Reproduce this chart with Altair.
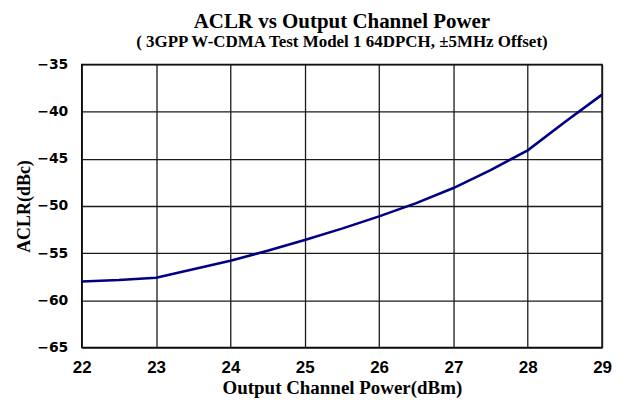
import altair as alt
import pandas as pd

power_dbm = [22, 22.5, 23, 23.5, 24, 24.5, 25, 25.5, 26, 26.5, 27, 27.5, 28, 28.5, 29]
aclr_dbc = [-58.0, -57.85, -57.6, -56.7, -55.8, -54.75, -53.6, -52.4, -51.1, -49.7, -48.1, -46.2, -44.1, -41.1, -38.2]

x_ticks = [22, 23, 24, 25, 26, 27, 28, 29]
y_ticks = [-65, -60, -55, -50, -45, -40, -35]

df = pd.DataFrame({"power": power_dbm, "aclr": aclr_dbc})

chart = (
    alt.Chart(df)
    .mark_line(color="#000085", strokeWidth=2.6)
    .encode(
        x=alt.X(
            "power:Q",
            scale=alt.Scale(domain=[22, 29], nice=False, zero=False),
            axis=alt.Axis(
                values=x_ticks,
                title="Output Channel Power(dBm)",
                format="d",
                labelFont="Liberation Sans",
                labelFontSize=17,
                labelFlush=False,
                labelPadding=12,
                titleFontSize=19,
                titlePadding=3,
            ),
        ),
        y=alt.Y(
            "aclr:Q",
            scale=alt.Scale(domain=[-65, -35], nice=False, zero=False),
            axis=alt.Axis(
                values=y_ticks,
                title="ACLR(dBc)",
                format="d",
                labelFont="DejaVu Sans",
                labelFontSize=14,
                labelPadding=14,
                titleFontSize=18,
                titlePadding=3,
            ),
        ),
    )
    .properties(
        width=522,
        height=284,
        autosize=alt.AutoSizeParams(type="none"),
        padding={"left": 74, "top": 56, "right": 15, "bottom": 51},
        title=alt.TitleParams(
            text="ACLR vs Output Channel Power",
            subtitle="( 3GPP W-CDMA Test Model 1 64DPCH, ±5MHz Offset)",
            font="Liberation Serif",
            fontSize=21,
            fontWeight="bold",
            subtitleFont="Liberation Serif",
            subtitleFontSize=17,
            subtitleFontWeight="bold",
            subtitleColor="black",
            subtitlePadding=2,
            color="black",
            anchor="middle",
            offset=8,
        ),
    )
    .configure_view(stroke="black", strokeWidth=1.5)
    .configure_axis(
        grid=True,
        gridColor="#1a1a1a",
        gridWidth=1.3,
        gridOpacity=1,
        domain=False,
        ticks=False,
        labelFontWeight="bold",
        labelColor="black",
        titleFont="Liberation Serif",
        titleFontWeight="bold",
        titleColor="black",
    )
)

chart.save("out.html", embed_options={"renderer": "svg", "actions": False})
